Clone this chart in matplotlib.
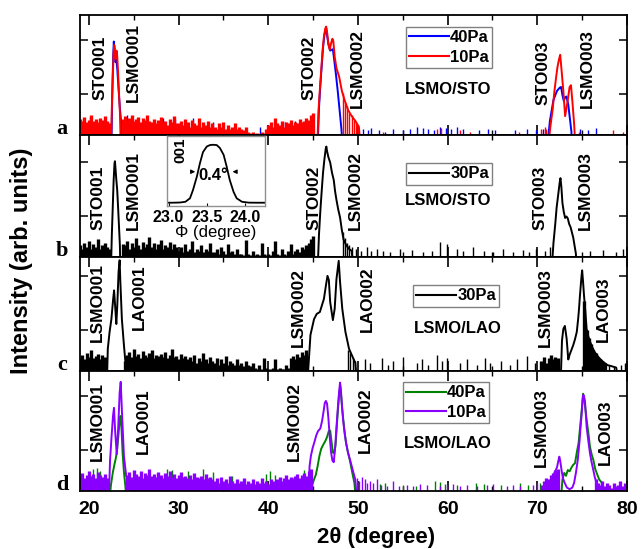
import numpy as np
import matplotlib
matplotlib.use('Agg')
import matplotlib.pyplot as plt
from matplotlib.lines import Line2D
from matplotlib.ticker import MultipleLocator, NullFormatter, LogLocator
from matplotlib.transforms import blended_transform_factory

plt.rcParams['font.family'] = ['Liberation Sans', 'DejaVu Sans']
plt.rcParams['font.weight'] = 'bold'
plt.rcParams['axes.linewidth'] = 1.3

nan = np.nan

# ---------------- (a) LSMO/STO, 40 Pa and 10 Pa ----------------
a_bg_tt = np.arange(19.0, 45.25, 0.25)
a10_bg = [12, 10, 14, 9, 11, 16, 10, 12, 9, 13, 11, 15, 10, 8,
          0, 0, 0, 0, 0,
          12,
          15, 11, 13, 17, 10, 12, 14, 9, 13, 11, 16, 10,
          9, 12, 8, 11, 14, 9, 10, 7, 12, 9, 15, 8,
          8, 10, 7, 12, 9, 6, 11, 8, 7, 13, 6, 9, 7, 10, 6, 8,
          6, 5, 8, 6, 9, 5, 7, 5, 6, 8, 5, 6,
          5, 4.5, 6, 4, 3.5, 4, 3.2, 3.5,
          3.3, 4, 3.5, 5,
          7, 9, 6, 13, 8, 7, 10, 6, 9, 8, 11, 7, 9, 8, 12, 9, 10, 13, 11, 16,
          20]
a10_spk_tt = [48.3, 48.55, 48.8, 49.05, 49.3, 49.55, 49.8, 50.05, 52.8, 58.8,
              59.3, 61.4, 62.5, 68.0, 70.4, 70.8, 71.0, 74.6, 78.4, 79.6]
a10_spk = [110, 50, 35, 20, 16, 11, 9, 7, 4, 5,
           5.5, 4.5, 4, 4, 5, 6, 5, 4, 4.5, 4]
a10_pk_tt = [22.45, 22.55, 22.65, 22.75, 22.82, 22.88, 22.95, 23.02, 23.08, 23.15, 23.25, 23.35, 23.45, 23.55, nan,
             45.45, 45.6, 45.75, 45.9, 46.05, 46.2, 46.35, 46.45, 46.55, 46.7,
             46.85, 47.0, 47.15, 47.25, 47.4, 47.6, 47.9, 48.2, 48.5, 48.9,
             49.3, 49.7, 50.1, 50.3, nan,
             71.2, 71.45, 71.7, 71.9, 72.1, 72.25, 72.4, 72.55, 72.7, 72.9,
             73.1, 73.35, 73.6, 73.75, 73.9, 74.1, 74.25]
a10_pk = [1, 30, 400, 3500, 6500, 5000, 2000, 3000, 4000, 2500, 600, 100, 20, 1, nan,
          1, 25, 150, 770, 4000, 13000, 26000, 31000, 20000, 7000,
          4300, 7500, 11000, 9000, 2400, 900, 430, 130, 60, 25,
          15, 10, 6, 1, nan,
          1, 6, 25, 120, 430, 1000, 1800, 2800, 770, 130,
          15, 47, 180, 210, 58, 8, 1]

a40_spk_tt = [20.1, 24.2, 28.3, 29.6, 31.6, 33.8, 39.1, 40.0, 41.9, 43.0,
              50.6, 51.1, 51.5, 52.3, 53.0, 53.9, 55.0, 55.8, 56.6, 57.2,
              57.8, 58.5, 59.2, 59.8, 60.4, 61.0, 61.7, 63.5, 64.5, 65.3,
              67.5, 68.8, 69.9, 70.6, 74.8, 75.6, 76.5]
a40_spk = [14, 16, 13, 12, 13, 9, 6, 7, 9, 10,
           5, 4.5, 5.5, 4.5, 4, 5, 4.5, 5, 6, 5.5,
           5, 4.5, 6, 5.5, 5, 6, 5, 4.5, 5, 4.5,
           4.5, 5, 4.5, 5, 5, 4.5, 5.5]
a40_pk_tt = [22.5, 22.6, 22.7, 22.77, 22.85, 22.95, 23.05, 23.15, 23.3, 23.45, 23.6, 23.75, nan,
             45.5, 45.65, 45.8, 45.95, 46.1, 46.25, 46.4, 46.45, 46.55, 46.7,
             46.9, 47.05, 47.2, 47.35, 47.55, 47.75, 47.95, 48.15, 48.3, nan,
             71.1, 71.4, 71.8, 72.2, 72.5, 72.65, 72.8, 72.95, 73.1, 73.25, 73.45, 73.6, 73.8, 73.9]
a40_pk = [1, 100, 2500, 8700, 4000, 1500, 1800, 900, 150, 30, 8, 1, nan,
          1, 30, 200, 1000, 5000, 15000, 25000, 27000, 15000, 7000,
          4000, 4300, 4500, 1800, 500, 120, 25, 5, 1, nan,
          1, 10, 60, 130, 170, 180, 90, 55, 75, 80, 40, 15, 4, 1]

# ---------------- (b) LSMO/STO, 30 Pa ----------------
b_bg_tt = np.arange(19.0, 45.25, 0.25)
b30_bg = [8, 6, 10, 7, 12, 6, 9, 7, 14, 6, 8, 10, 7, 6,
          0, 0, 0, 0, 0,
          9,
          8, 12, 6, 10, 7, 15, 8, 6, 11, 7, 9, 17,
          7, 10, 6, 9, 13, 6, 8, 7, 11, 6, 9, 7,
          5, 7, 4.5, 9, 5, 6, 12, 4.5, 6, 5, 8, 4.5, 6, 5, 10, 4.5,
          4.5, 6, 4, 7, 5, 4, 9, 4.5, 5, 4, 6, 4,
          4, 3.5, 13, 4, 3.5, 5, 3.5, 4, 3.5, 10, 4, 3.5,
          4, 3.5, 5, 12, 4, 3.5, 6, 4, 3.5, 5, 9, 4, 5, 6, 4.5, 7, 6, 8, 10, 14,
          18]
b30_spk_tt = [48.3, 48.55, 48.8, 49.05, 49.3, 49.8, 50.3, 50.96, 51.5, 52.1,
              52.8, 53.6, 54.7, 56.0, 57.3, 58.2, 59.1, 59.9, 61.0, 61.7,
              62.85, 64.0, 65.1, 66.2, 67.3, 68.4, 69.1, 69.9, 70.85, 71.4,
              75.9, 77.35, 78.8, 79.6]
b30_spk = [25, 15, 10, 8, 7, 6, 5, 7, 5, 6,
           5, 4.5, 6, 5.5, 4.5, 5, 11, 9, 6, 5,
           7, 5, 4.5, 6, 4.5, 5.5, 4.5, 6, 5, 7,
           5, 5.5, 4.5, 6]
b30_pk_tt = [22.45, 22.55, 22.65, 22.75, 22.85, 22.9, 22.97, 23.05, 23.15, 23.25, 23.35, 23.45, 23.5, nan,
             45.5, 45.65, 45.8, 45.95, 46.1, 46.25, 46.4, 46.47, 46.55, 46.7,
             46.9, 47.1, 47.3, 47.45, 47.6, 47.8, 48.0, 48.2, 48.4, 48.7,
             49.0, 49.3, 49.5, nan,
             71.6, 71.8, 72.0, 72.15, 72.35, 72.5, 72.58, 72.68, 72.8, 72.95,
             73.1, 73.25, 73.4, 73.55, 73.7, 73.85, 74.0, 74.15, 74.3, 74.4]
b30_pk = [1, 20, 200, 2000, 9000, 10600, 5000, 2200, 900, 200, 40, 8, 1, nan,
          1, 20, 150, 800, 3900, 12000, 30000, 37000, 25000, 15000,
          9500, 4000, 2100, 800, 390, 170, 88, 30, 13, 8,
          6, 5, 1, nan,
          1, 10, 50, 200, 700, 1800, 2500, 1200, 300, 140,
          84, 95, 80, 50, 39, 25, 16, 8, 4, 1]

# ---------------- (c) LSMO/LAO, 30 Pa ----------------
c_bg_tt = np.r_[np.arange(19.0, 44.5, 0.25), np.arange(70.5, 77.75, 0.25)]
c30_bg = [9, 12, 8, 14, 10, 18, 9, 11, 13, 8, 12, 10,
          0, 0, 0, 0, 0, 0, 0, 0,
          7, 12, 15, 10, 19, 11, 13, 9, 16, 12, 10, 14, 18, 9, 12, 11,
          13, 10, 15, 9, 12, 20, 10, 11, 8, 13, 9, 11,
          8, 10, 7, 12, 6, 9, 7, 14, 8, 6, 10, 7, 6, 9, 5, 8, 6, 11, 5, 7,
          6, 5, 8, 5, 6, 4.5, 7, 5, 4.5, 6,
          4, 3.5, 5, 3.5, 9, 4, 3.5, 3.5, 4, 8, 3.5, 4, 3.5, 3.5, 5, 4,
          9, 11, 8, 13, 10, 15, 12, 18,
          7, 10, 6, 9, 12, 8, 10, 9,
          0, 0, 0, 0, 0, 0, 0, 0, 0, 0, 0,
          1200, 100, 50, 30, 18, 14, 10, 8, 7, 6]
c30_spk_tt = [48.9, 49.15, 49.4, 49.65, 50.77, 51.33, 52.63, 53.38, 53.93, 55.05,
              56.53, 57.09, 57.84, 58.77, 59.32, 59.88, 61.37, 62.11, 63.23, 64.16,
              64.71, 66.0, 66.94, 67.69, 68.8, 69.73, 70.3, 78.0, 78.6, 79.3,
              79.8]
c30_spk = [18, 14, 9, 7, 8, 6, 9, 5, 7, 10,
           6, 8, 5, 12, 7, 9, 6, 8, 5, 9,
           6, 7, 5, 8, 11, 6, 7, 5, 4.5, 5,
           6]
c30_pk_tt = [22.0, 22.1, 22.3, 22.5, 22.7, 22.8, 22.94, 23.05, 23.16, 23.3, 23.42, 23.5, 23.67, 23.9, 24.15, nan,
             44.35, 44.7, 45.1, 45.4, 45.75, 46.2, 46.45, 46.6, 46.75, 46.9,
             47.2, 47.4, 47.6, 47.85, 48.0, 48.25, 48.6, 49.0, 49.4, 49.7, 49.9, nan,
             72.6, 72.75, 72.9, 73.07, 73.27, 73.45, 73.6, 73.8, 74.0, 74.2,
             74.4, 74.55, 74.65, 74.75, 74.85, 74.93, 75.0, 75.1, 75.2, 75.35,
             75.5, 75.7, 75.9, 76.15, 76.4, 76.9, 77.35, 77.8, 78.3, 78.8, 79.1]
c30_pk = [1, 20, 84, 250, 1400, 2900, 600, 165, 830, 14000, 38000, 6000, 250, 27, 3, nan,
          1, 65, 250, 390, 460, 1400, 5000, 10000, 7000, 1070,
          230, 600, 7600, 36000, 6000, 600, 84, 20, 10, 6, 1, nan,
          1, 40, 108, 140, 47, 8, 12, 18, 27, 45,
          84, 250, 600, 1800, 4700, 10000, 16000, 6000, 2000, 500,
          108, 55, 35, 22, 15, 9, 6.5, 5, 4.5, 4, 1]

# ---------------- (d) LSMO/LAO, 40 Pa and 10 Pa ----------------
d_bg_tt = np.r_[np.arange(19.0, 45.0, 0.25), np.arange(70.5, 72.5, 0.25),
                np.arange(76.5, 80.0, 0.25)]
d10_bg = [10, 14, 9, 12, 16, 11, 13, 9, 15, 12, 10, 13, 9,
          0, 0, 0, 0, 0, 0, 0, 0,
          12, 15, 10, 18, 13, 11, 16, 9, 14, 12, 20, 11, 13, 10, 15,
          12, 9, 14, 11, 17, 10, 13, 9, 12, 15, 10, 11,
          9, 12, 8, 14, 10, 9, 11, 8, 13, 9, 10, 8,
          7, 9, 6, 10, 7, 8, 6, 11, 7, 6, 8, 6, 7, 9, 5.5, 7, 6, 8, 5.5, 7,
          6, 9, 6, 7, 5.5, 8, 7, 6,
          8, 10, 7, 9, 12, 8, 10, 9, 11, 13, 9, 12, 14, 11, 16, 20,
          5, 7, 9, 8, 12, 14, 18, 20,
          8, 6, 5, 7, 4.5, 6, 5, 4, 6, 4.5, 5, 7, 4.5, 6]
d10_spk_tt = [49.85, 50.1, 50.41, 50.78, 51.0, 51.34, 51.71, 52.08, 52.6, 53.2,
              53.94, 54.6, 55.43, 56.17, 56.91, 57.66, 59.14, 59.89, 60.63, 61.37,
              62.12, 63.23, 64.35, 65.09, 66.58, 67.32, 68.06, 69.55, 70.0]
d10_spk = [9, 7, 10, 8, 6, 7, 6, 8, 5, 4.5,
           7, 4.5, 5, 4.5, 5.5, 5, 4.5, 5, 5.5, 4.5,
           5, 4.5, 5, 5.5, 4.5, 5, 4.5, 5, 6]
d10_pk_tt = [22.2, 22.35, 22.5, 22.68, 22.79, 22.93, 23.1, 23.27, 23.42, 23.54, 23.68, 23.9, 24.15, nan,
             44.45, 44.6, 44.75, 44.95, 45.15, 45.35, 45.55, 45.8, 46.0, 46.15,
             46.3, 46.42, 46.55, 46.7, 46.85, 47.0, 47.15, 47.3, 47.45, 47.6,
             47.75, 47.9, 48.0, 48.08, 48.2, 48.35, 48.5, 48.7, 48.9, 49.1,
             49.3, 49.5, 49.7, 49.9, nan,
             71.3, 71.5, 71.75, 72.0, 72.2, 72.35, 72.45, 72.55, 72.7, 72.85,
             73.05, 73.3, 73.6, 73.9, 74.1, 74.3, 74.5, 74.7, 74.85, 74.95,
             75.05, 75.13, 75.22, 75.32, 75.5, 75.7, 75.87, 76.05, 76.24, 76.4,
             76.6, 76.8]
d10_pk = [1, 40, 250, 1800, 3600, 430, 68, 770, 13000, 33000, 2500, 58, 11, nan,
          1, 25, 60, 120, 200, 350, 500, 620, 1200, 2500,
          5500, 6500, 5200, 1500, 300, 80, 40, 35, 120, 700,
          3500, 15000, 31000, 20000, 5000, 1200, 430, 160, 76, 45,
          25, 14, 8, 1, nan,
          1, 8, 11, 16, 23, 40, 56, 40, 18, 9,
          6, 4, 3.5, 4, 6, 14, 40, 200, 900, 2200,
          7000, 11000, 9000, 6000, 700, 200, 75, 35, 18, 10,
          6, 1]

d40_spk_tt = [20.4, 20.9, 21.2, 28.7, 29.3, 31.0, 32.7, 33.8, 36.0, 39.7,
              40.2, 40.8, 44.0, 52.4, 53.0, 55.05, 56.5, 58.6, 59.1, 59.7,
              61.0, 63.2, 64.0, 66.0, 68.06, 69.0, 70.3, 71.0, 77.8, 78.5]
d40_spk = [20, 22, 16, 20, 18, 16, 20, 15, 11, 13,
           16, 12, 18, 5.5, 6, 5, 4.5, 7, 6.5, 5.5,
           5, 6, 5.5, 5, 6, 5, 6, 8, 5, 4.5]
d40_pk_tt = [22.25, 22.45, 22.65, 22.85, 23.0, 23.15, 23.3, 23.45, 23.53, 23.62, 23.75, 23.9, 24.05, 24.2, nan,
             44.7, 44.9, 45.1, 45.3, 45.5, 45.7, 45.9, 46.1, 46.35, 46.55,
             46.75, 46.9, 47.05, 47.2, 47.35, 47.5, 47.7, 47.9, 48.0, 48.1,
             48.25, 48.45, 48.65, 48.85, 49.1, 49.35, 49.6, 49.8, nan,
             72.6, 72.8, 73.0, 73.2, 73.4, 73.6, 73.8, 74.0, 74.2, 74.4,
             74.6, 74.8, 74.95, 75.1, 75.2, 75.35, 75.5, 75.7, 75.87, 76.05,
             76.25, 76.45, 76.65, 76.9, 77.2, 77.5]
d40_pk = [1, 5, 14, 30, 50, 110, 400, 1500, 1800, 700, 80, 15, 5, 1, nan,
          1, 5, 8, 12, 25, 60, 110, 150, 210, 300,
          500, 520, 200, 80, 75, 150, 1500, 12000, 20000, 12000,
          3000, 700, 200, 90, 40, 15, 6, 1, nan,
          1, 8, 14, 11, 18, 16, 22, 28, 32, 80,
          180, 900, 3000, 12000, 9000, 3500, 1300, 400, 130, 70,
          42, 20, 13, 8, 6, 1]

# phi scan of the (001) reflection, normalised
phi = [22.98, 23.05, 23.15, 23.22, 23.28, 23.32, 23.37, 23.41, 23.45, 23.50, 23.54, 23.58,
       23.63, 23.67, 23.72, 23.76, 23.80, 23.85, 23.89, 23.96, 24.05, 24.15, 24.26]
phi_int = [0.047, 0.047, 0.05, 0.06, 0.11, 0.23, 0.42, 0.61, 0.77, 0.85, 0.87, 0.875,
           0.87, 0.83, 0.73, 0.56, 0.37, 0.20, 0.11, 0.06, 0.048, 0.047, 0.047]

BLUE, RED, BLACK, GREEN, VIOLET = '#0000ff', '#ff0000', '#000000', '#008000', '#8a00ff'
FLOOR = 3.0

fig = plt.figure(figsize=(6.41, 5.49), dpi=100)
W, H = 641, 549
left, width = 80 / W, 547 / W
# (top, bottom) of each panel in pixels
rows = [(15, 135), (135, 257), (257, 371), (371, 491)]
axes = []
for top, bot in rows:
    ax = fig.add_axes([left, (H - bot) / H, width, (bot - top) / H])
    ax.set_xlim(19, 80)
    ax.set_yscale('log')
    ax.set_ylim(FLOOR, FLOOR * 10 ** ((bot - top) / 27))
    ax.xaxis.set_major_locator(MultipleLocator(10))
    ax.xaxis.set_minor_locator(MultipleLocator(5))
    ax.yaxis.set_major_locator(LogLocator(base=10))
    ax.yaxis.set_minor_locator(LogLocator(base=10, subs=np.arange(2, 10)))
    ax.yaxis.set_major_formatter(NullFormatter())
    ax.yaxis.set_minor_formatter(NullFormatter())
    ax.tick_params(which='both', direction='in', top=True, right=True, labelsize=14)
    ax.tick_params(axis='x', which='major', length=7, width=1.2, pad=7)
    ax.tick_params(axis='x', which='minor', length=3.5, width=1)
    ax.tick_params(axis='y', which='major', length=5.5, width=1.1)
    ax.tick_params(axis='y', which='minor', length=3, width=0.9)
    ax.tick_params(labelbottom=False)
    axes.append(ax)
ax_a, ax_b, ax_c, ax_d = axes
ax_d.tick_params(labelbottom=True)


def draw(ax, color, pk_tt, pk, bg_tt=None, bg=None, spk_tt=None, spk=None):
    # noisy background as a dense comb, isolated counts as thin spikes, peaks as a line
    if bg is not None:
        bg = np.asarray(bg, float)
        keep = bg > 0
        ax.vlines(np.asarray(bg_tt)[keep], FLOOR, bg[keep], color=color, lw=2.4)
    if spk is not None:
        ax.vlines(spk_tt, FLOOR, spk, color=color, lw=1.0)
    ax.plot(pk_tt, pk, color=color, lw=1.4)


draw(ax_a, BLUE, a40_pk_tt, a40_pk, spk_tt=a40_spk_tt, spk=a40_spk)
draw(ax_a, RED, a10_pk_tt, a10_pk, a_bg_tt, a10_bg, a10_spk_tt, a10_spk)
draw(ax_b, BLACK, b30_pk_tt, b30_pk, b_bg_tt, b30_bg, b30_spk_tt, b30_spk)
draw(ax_c, BLACK, c30_pk_tt, c30_pk, c_bg_tt, c30_bg, c30_spk_tt, c30_spk)
draw(ax_d, GREEN, d40_pk_tt, d40_pk, spk_tt=d40_spk_tt, spk=d40_spk)
draw(ax_d, VIOLET, d10_pk_tt, d10_pk, d_bg_tt, d10_bg, d10_spk_tt, d10_spk)

# reflection labels: (text, 2theta, height of lower end as axes fraction)
peak_labels = [
    [('STO001', 21.2, 0.29), ('LSMO001', 25.0, 0.275), ('STO002', 44.6, 0.29),
     ('LSMO002', 49.9, 0.225), ('STO003', 70.6, 0.25), ('LSMO003', 75.6, 0.225)],
    [('STO001', 21.0, 0.22), ('LSMO001', 25.0, 0.22), ('STO002', 45.1, 0.22),
     ('LSMO002', 49.7, 0.22), ('STO003', 70.3, 0.22), ('LSMO003', 75.4, 0.22)],
    [('LSMO001', 20.9, 0.254), ('LAO001', 25.6, 0.36), ('LSMO002', 43.3, 0.21),
     ('LAO002', 51.05, 0.34), ('LSMO003', 70.9, 0.21), ('LAO003', 77.35, 0.25)],
    [('LSMO001', 20.9, 0.25), ('LAO001', 26.1, 0.31), ('LSMO002', 42.9, 0.25),
     ('LAO002', 50.8, 0.317), ('LSMO003', 70.45, 0.2), ('LAO003', 77.6, 0.217)],
]
for ax, labels in zip(axes, peak_labels):
    trans = blended_transform_factory(ax.transData, ax.transAxes)
    for txt, x, y in labels:
        ax.text(x, y, txt, transform=trans, rotation=90, ha='center', va='bottom',
                fontsize=12.5, zorder=5)

# sample names
for ax, txt, x, y in [(ax_a, 'LSMO/STO', 60.0, 0.383), (ax_b, 'LSMO/STO', 60.0, 0.467),
                      (ax_c, 'LSMO/LAO', 61.1, 0.377), (ax_d, 'LSMO/LAO', 60.0, 0.396)]:
    ax.text(x, y, txt, transform=blended_transform_factory(ax.transData, ax.transAxes),
            ha='center', va='center', fontsize=12)


def add_legend(ax, entries, x0, y0):
    handles = [Line2D([], [], color=c, lw=1.5) for c, _ in entries]
    leg = ax.legend(handles, [t for _, t in entries], loc='upper left',
                    bbox_to_anchor=(x0, y0), borderaxespad=0, frameon=True,
                    fancybox=False, edgecolor='#808080', framealpha=1,
                    handlelength=2.4, handletextpad=0.05, borderpad=0.2,
                    labelspacing=0.25, prop={'size': 12, 'weight': 'bold'})
    leg.get_frame().set_linewidth(1.0)


add_legend(ax_a, [(BLUE, '40Pa'), (RED, '10Pa')], 0.596, 0.90)
add_legend(ax_b, [(BLACK, '30Pa')], 0.596, 0.77)
add_legend(ax_c, [(BLACK, '30Pa')], 0.609, 0.754)
add_legend(ax_d, [(GREEN, '40Pa'), (VIOLET, '10Pa')], 0.590, 0.908)

for ax, letter in zip(axes, 'abcd'):
    ax.text(-0.033, 0.01, letter, transform=ax.transAxes, ha='center', va='baseline',
            fontsize=16, fontweight='bold', family=['Liberation Serif', 'DejaVu Serif'])

fig.text(22 / W, 1 - 261 / H, 'Intensity (arb. units)', rotation=90,
         ha='center', va='center', fontsize=17)
fig.text(376 / W, 1 - 538 / H, '2θ (degree)', ha='center', va='center', fontsize=16)

# phi-scan inset in panel b
ins = fig.add_axes([167 / W, (H - 206) / H, 98 / W, 70 / H])
ins.set_facecolor('white')
ins.plot(phi, phi_int, color=BLACK, lw=1.3)
ins.set_xlim(22.98, 24.26)
ins.set_ylim(0, 1)
ins.set_xticks([23.0, 23.5, 24.0])
ins.set_xticklabels(['23.0', '23.5', '24.0'])
ins.set_yticks([])
ins.tick_params(axis='x', direction='in', length=2, labelsize=11.5, pad=3)
for sp in ins.spines.values():
    sp.set_color('#909090')
    sp.set_linewidth(1.0)
ins.set_xlabel('Φ (degree)', fontsize=12, labelpad=0)
ins.text(23.15, 0.8, '001', rotation=90, ha='center', va='center', fontsize=11)
ins.text(23.59, 0.43, '0.4°', ha='center', va='center', fontsize=12)
ins.annotate('', xy=(23.385, 0.49), xytext=(23.27, 0.49),
             arrowprops=dict(arrowstyle='-|>', lw=0.8, mutation_scale=6, color=BLACK))
ins.annotate('', xy=(23.80, 0.49), xytext=(23.92, 0.49),
             arrowprops=dict(arrowstyle='-|>', lw=0.8, mutation_scale=6, color=BLACK))

fig.savefig('out.png', dpi=100)
